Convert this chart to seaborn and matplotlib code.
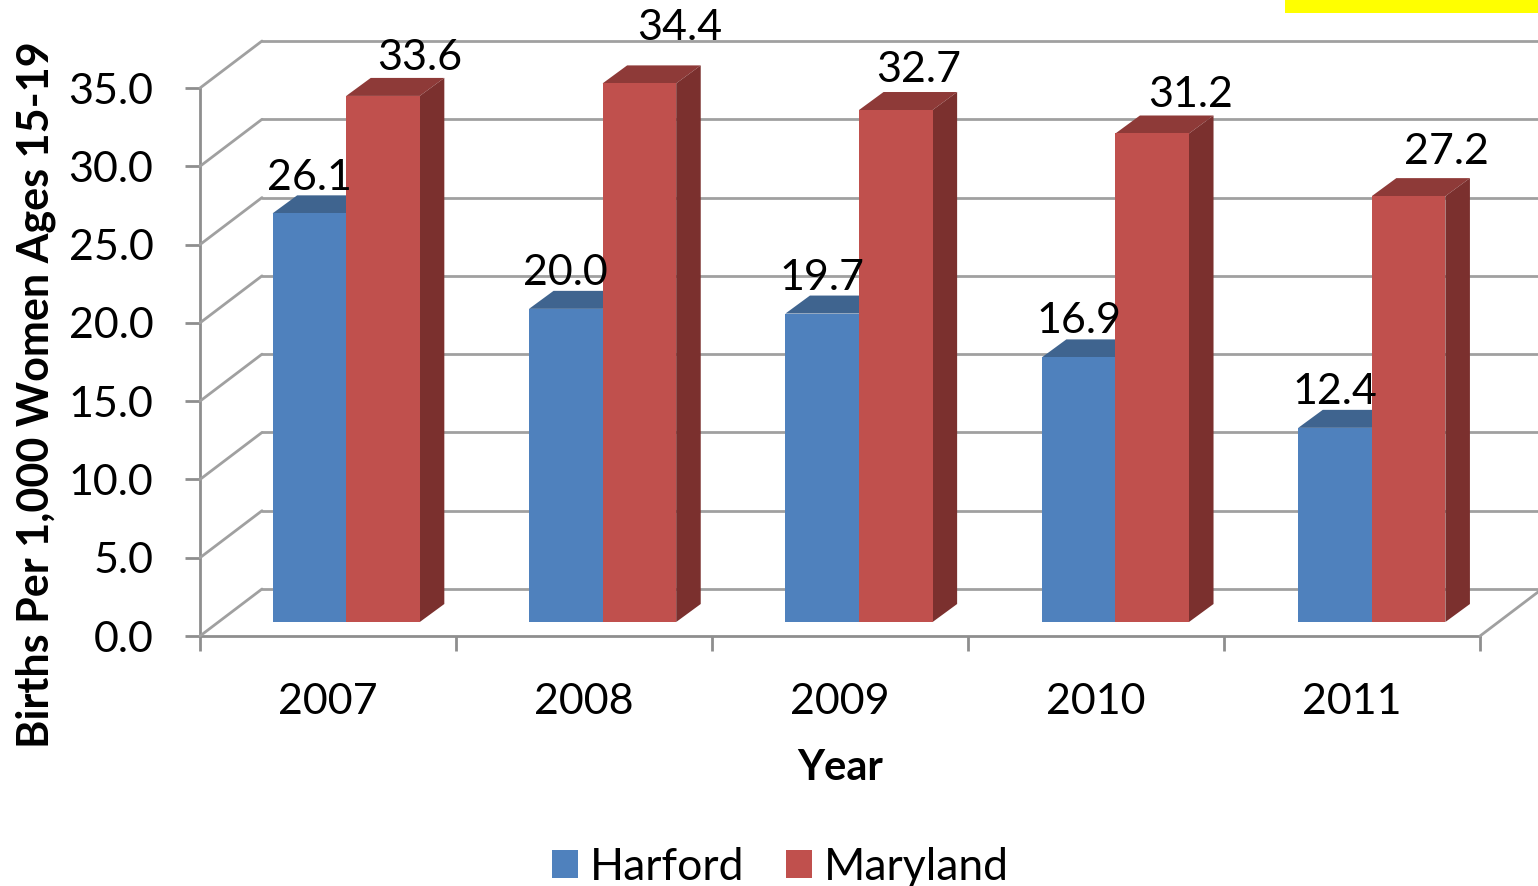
import pandas as pd
import matplotlib
matplotlib.use('Agg')
import matplotlib.pyplot as plt
import seaborn as sns
from matplotlib.patches import ConnectionPatch, Polygon, Rectangle

# Values
years = ['2007', '2008', '2009', '2010', '2011']
harford = [26.1, 20.0, 19.7, 16.9, 12.4]
maryland = [33.6, 34.4, 32.7, 31.2, 27.2]
y_ticks = [0, 5, 10, 15, 20, 25, 30, 35]

# Label nudges in pixels, the original labels were placed by hand
harford_nudge = [(0, 23), (0, 24), (0, 24), (0, 24), (0, 24)]
maryland_nudge = [(37, 26), (40, 43), (23, 28), (38, 26), (38, 32)]

W, H = 1538, 886
GRID = '#A0A0A0'
AXIS = '#8E8E8E'
LW = 2.0
FS = 31
BLUE, RED = '#4F81BD', '#C0504D'
BLUE_TOP, RED_TOP = '#3F648F', '#8E3A38'
BLUE_SIDE, RED_SIDE = '#3A5C85', '#7B302E'

sns.set_theme(style='white')
plt.rcParams['font.family'] = ['Lato', 'DejaVu Sans']
plt.rcParams['text.color'] = 'black'
plt.rcParams['axes.labelcolor'] = 'black'
plt.rcParams['xtick.labelcolor'] = 'black'
plt.rcParams['ytick.labelcolor'] = 'black'

df = pd.DataFrame({
    'Year': years * 2,
    'Births': harford + maryland,
    'Area': ['Harford'] * 5 + ['Maryland'] * 5,
})


def add_plane(dx, dy, width=1280):
    # same size axes, shifted by some pixels, one per depth plane of the fake 3D box
    left, bottom = (200 + dx) / W, (H - 636 + dy) / H
    a = fig.add_axes([left, bottom, width / W, 548 / H], facecolor='none')
    a.set_xlim(-0.5, 4.5)
    a.set_ylim(0, 35)
    return a


fig = plt.figure(figsize=(W / 100, H / 100), dpi=100)
ax_back = add_plane(62, 47)
ax = add_plane(0, 0)
ax_bars = add_plane(18, 14, width=1282)

# back wall gridlines
ax_back.set_xticks([])
ax_back.set_yticks(y_ticks)
ax_back.tick_params(left=False, labelleft=False)
ax_back.grid(axis='y', color=GRID, lw=LW, clip_on=False)
for g in ax_back.get_ygridlines():
    g.set_clip_on(False)
sns.despine(ax=ax_back, left=True, bottom=True)

# front axis frame
ax.set_yticks(y_ticks, [f'{v:.1f}' for v in y_ticks])
ax.set_xticks(range(5), years)
ax.set_xticks([i - 0.5 for i in range(6)], minor=True)
ax.tick_params(axis='y', length=10.5, width=LW, color=AXIS, pad=23, labelsize=FS, left=True)
ax.tick_params(axis='x', which='major', length=0, pad=33.5, labelsize=FS)
ax.tick_params(axis='x', which='minor', length=10.5, width=LW, color=AXIS, bottom=True)
sns.despine(ax=ax)
for side in ['left', 'bottom']:
    ax.spines[side].set_color(AXIS)
    ax.spines[side].set_linewidth(LW)
ax.set_xlabel('Year', fontsize=30, fontweight='bold', va='center')
ax.xaxis.set_label_coords(0.5, -0.24)
ax.set_ylabel('Births Per 1,000 Women Ages 15-19', fontsize=31, fontweight='bold', va='center')
ax.yaxis.set_label_coords(-0.1285, 0.44)

# diagonals joining the front axis to the back wall
for v in y_ticks:
    fig.add_artist(ConnectionPatch((-0.5, v), (-0.5, v), ax.transData, ax_back.transData,
                                   color=GRID, lw=LW, clip_on=False))
fig.add_artist(ConnectionPatch((4.5, 0), (4.5, 0), ax.transData, ax_back.transData,
                               color=GRID, lw=LW, clip_on=False))

# bars
sns.barplot(data=df, x='Year', y='Births', hue='Area', hue_order=['Harford', 'Maryland'],
            palette=[BLUE, RED], width=0.574, gap=0, saturation=1, dodge=True,
            linewidth=0, edgecolor='none', ax=ax_bars)
ax_bars.set_xlim(-0.5, 4.5)
ax_bars.set_ylim(0, 35)
ax_bars.set_xlabel('')
ax_bars.set_ylabel('')
ax_bars.set_xticks([])
ax_bars.set_yticks([])
sns.despine(ax=ax_bars, left=True, bottom=True)

# depth faces of the bars, depth converted from pixels to data units
depth_x = 24.5 / 256
depth_y = 18 / (548 / 35)
tops = [BLUE_TOP] * 5 + [RED_TOP] * 5
sides = [BLUE_SIDE] * 5 + [RED_SIDE] * 5
bars = list(ax_bars.patches)[:10]
for bar, top_col, side_col in zip(bars, tops, sides):
    x0, x1 = bar.get_x(), bar.get_x() + bar.get_width()
    h = bar.get_height()
    ax_bars.add_patch(Polygon([(x0, h), (x1, h), (x1 + depth_x, h + depth_y), (x0 + depth_x, h + depth_y)],
                              closed=True, fc=top_col, ec='none', zorder=0.5, clip_on=False))
    ax_bars.add_patch(Polygon([(x1, 0), (x1, h), (x1 + depth_x, h + depth_y), (x1 + depth_x, depth_y)],
                              closed=True, fc=side_col, ec='none', zorder=0.5, clip_on=False))

# value labels
values = harford + maryland
nudges = harford_nudge + maryland_nudge
for bar, val, (nx, ny) in zip(bars, values, nudges):
    ax_bars.annotate(f'{val:.1f}', (bar.get_x() + bar.get_width() / 2, val),
                     xytext=(nx, ny), textcoords='offset pixels', ha='center', va='baseline',
                     fontsize=FS, color='black', zorder=5, annotation_clip=False)

# legend
sns.move_legend(ax_bars, 'center', bbox_to_anchor=(780.5 / W, (H - 867) / H),
                bbox_transform=fig.transFigure, ncol=2, frameon=False, title=None,
                fontsize=32, handlelength=0.58, handleheight=0.58,
                handletextpad=0.26, columnspacing=0.95, labelcolor='black')

# yellow strip cut off at the top right
fig.add_artist(Rectangle((1285 / W, 1 - 13 / H), (W - 1285) / W, 13 / H,
                         transform=fig.transFigure, fc='#FFFF00', ec='none'))

fig.savefig('out.png', dpi=100)
